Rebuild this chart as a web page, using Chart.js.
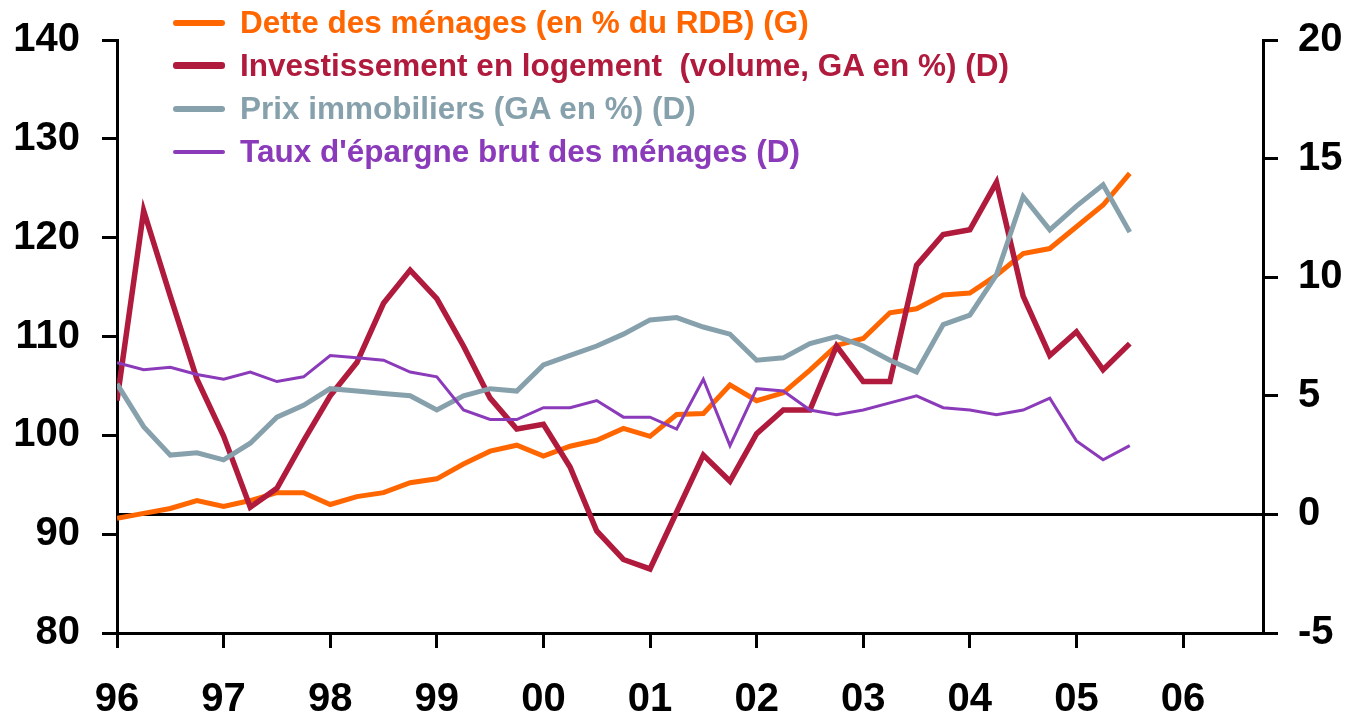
<!DOCTYPE html>
<html>
<head>
<meta charset="utf-8">
<script src="https://cdn.jsdelivr.net/npm/chart.js@4"></script>
<style>
  body { margin: 0; background: #fff; }
  #wrap { position: relative; width: 1349px; height: 716px; }
  #legend { position: absolute; left: 0; top: 1px; font-family: "Liberation Sans", Arial, sans-serif; font-weight: bold; font-size: 31.5px; }
  .row { position: relative; height: 43px; line-height: 43px; white-space: pre; }
  .row .swatch { position: absolute; left: 173px; top: 50%; width: 52px; border-radius: 3px; }
  .row .txt { position: absolute; left: 240px; top: 0; }
</style>
</head>
<body>
<div id="wrap">
  <canvas id="chart" width="1349" height="716"></canvas>
  <div id="legend"></div>
</div>
<script>
// Dette, investissement logement, prix immobiliers, épargne — trimestriel 96T1..05T3

const yearLabels = ['96', '97', '98', '99', '00', '01', '02', '03', '04', '05', '06'];

// (G) axe gauche
const dette = [91.6, 92.1, 92.6, 93.4, 92.8, 93.4, 94.2, 94.2, 93.0, 93.8, 94.2, 95.2, 95.6, 97.1, 98.4, 99.0,
  97.9, 98.9, 99.5, 100.7, 99.9, 102.1, 102.2, 105.1, 103.5, 104.3, 106.6, 109.1, 109.8, 112.4, 112.8,
  114.2, 114.4, 116.2, 118.4, 118.9, 121.1, 123.3, 126.5];

// (D) axe droit
const investissement = [4.8, 12.8, 9.2, 5.7, 3.3, 0.3, 1.1, 3.1, 5.0, 6.4, 8.9, 10.3, 9.1, 7.1, 4.9, 3.6,
  3.8, 2.0, -0.7, -1.9, -2.3, 0.1, 2.5, 1.4, 3.4, 4.4, 4.4, 7.1, 5.6, 5.6, 10.5,
  11.8, 12.0, 14.0, 9.2, 6.7, 7.7, 6.1, 7.2];

const prixImmo = [5.5, 3.7, 2.5, 2.6, 2.3, 3.0, 4.1, 4.6, 5.3, 5.2, 5.1, 5.0, 4.4, 5.0, 5.3, 5.2,
  6.3, 6.7, 7.1, 7.6, 8.2, 8.3, 7.9, 7.6, 6.5, 6.6, 7.2, 7.5, 7.1, 6.5, 6.0,
  8.0, 8.4, 10.1, 13.4, 12.0, 13.0, 13.9, 11.9];

const tauxEpargne = [6.4, 6.1, 6.2, 5.9, 5.7, 6.0, 5.6, 5.8, 6.7, 6.6, 6.5, 6.0, 5.8, 4.4, 4.0, 4.0,
  4.5, 4.5, 4.8, 4.1, 4.1, 3.6, 5.7, 2.9, 5.3, 5.2, 4.4, 4.2, 4.4, 4.7, 5.0,
  4.5, 4.4, 4.2, 4.4, 4.9, 3.1, 2.3, 2.9];

const FONT = '"Liberation Sans", Arial, sans-serif';

const toPoints = arr => arr.map((v, i) => ({ x: i, y: v }));

const series = [
  { label: 'Dette des ménages (en % du RDB) (G)', data: dette, color: '#FF6600', width: 5, axis: 'yL', order: 4 },
  { label: 'Investissement en logement  (volume, GA en %) (D)', data: investissement, color: '#AF1A3D', width: 5.5, axis: 'yR', order: 3 },
  { label: 'Prix immobiliers (GA en %) (D)', data: prixImmo, color: '#87A1AC', width: 5, axis: 'yR', order: 2 },
  { label: "Taux d'épargne brut des ménages (D)", data: tauxEpargne, color: '#8B3BBA', width: 3, axis: 'yR', order: 1 },
];

const axisBorder = { color: '#000', width: 3 };

// largeur fixe des axes y, sans marge haute/basse ajoutée par les étiquettes
const fixY = w => scale => { scale.width = w; scale.paddingTop = 0; scale.paddingBottom = 0; };

new Chart(document.getElementById('chart'), {
  type: 'line',
  data: {
    datasets: series.map(s => ({
      label: s.label,
      data: toPoints(s.data),
      borderColor: s.color,
      backgroundColor: s.color,
      borderWidth: s.width,
      pointRadius: 0,
      tension: 0,
      yAxisID: s.axis,
      order: s.order,
    })),
  },
  options: {
    responsive: false,
    animation: false,
    layout: { padding: { top: 40, left: 0, right: 0, bottom: 0 } },
    plugins: { legend: { display: false }, tooltip: { enabled: false } },
    scales: {
      x: {
        type: 'linear',
        min: 0,
        max: 43,
        border: axisBorder,
        grid: { drawOnChartArea: false, tickLength: 15, tickColor: '#000', tickWidth: 3 },
        afterBuildTicks: scale => { scale.ticks = yearLabels.map((_, k) => ({ value: k * 4 })); },
        afterFit: scale => { scale.height = 83; scale.paddingLeft = 0; scale.paddingRight = 0; },
        ticks: {
          autoSkip: false,
          maxRotation: 0,
          padding: 28,
          color: '#000',
          font: { family: FONT, size: 40, weight: 'bold' },
          callback: v => yearLabels[v / 4],
        },
      },
      yL: {
        position: 'left',
        min: 80,
        max: 140,
        border: axisBorder,
        grid: { drawOnChartArea: false, tickLength: 15, tickColor: '#000', tickWidth: 3 },
        afterFit: fixY(117),
        ticks: { stepSize: 10, padding: 22, color: '#000', font: { family: FONT, size: 40, weight: 'bold' } },
      },
      yR: {
        position: 'right',
        min: -5,
        max: 20,
        border: axisBorder,
        grid: {
          drawOnChartArea: true,
          color: ctx => (ctx.tick && ctx.tick.value === 0 ? '#000' : 'rgba(0,0,0,0)'),
          lineWidth: 3,
          tickLength: 15,
          tickColor: '#000',
          tickWidth: 3,
        },
        afterFit: fixY(86),
        ticks: { stepSize: 5, padding: 20, color: '#000', font: { family: FONT, size: 40, weight: 'bold' } },
      },
    },
  },
});

// légende en HTML, superposée en haut à gauche
const legend = document.getElementById('legend');
series.forEach(s => {
  const row = document.createElement('div');
  row.className = 'row';
  const sw = document.createElement('span');
  sw.className = 'swatch';
  sw.style.background = s.color;
  sw.style.height = (s.width + 1) + 'px';
  sw.style.marginTop = -(s.width + 1) / 2 + 'px';
  const txt = document.createElement('span');
  txt.className = 'txt';
  txt.style.color = s.color;
  txt.textContent = s.label;
  row.appendChild(sw);
  row.appendChild(txt);
  legend.appendChild(row);
});
</script>
</body>
</html>
